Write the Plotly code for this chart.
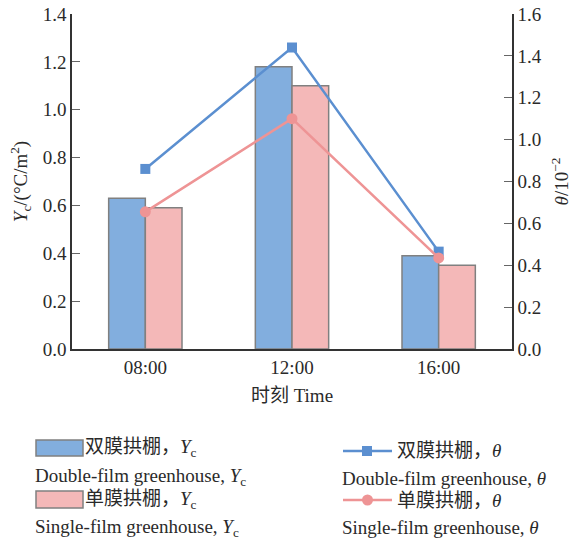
import plotly.graph_objects as go

times = ["08:00", "12:00", "16:00"]
yc_double = [0.63, 1.18, 0.39]
yc_single = [0.59, 1.10, 0.35]
theta_double = [0.86, 1.44, 0.465]
theta_single = [0.655, 1.10, 0.435]

left_ticks = [0.0, 0.2, 0.4, 0.6, 0.8, 1.0, 1.2, 1.4]
right_ticks = [0.0, 0.2, 0.4, 0.6, 0.8, 1.0, 1.2, 1.4, 1.6]

BLUE_BAR = "#82AEDE"
PINK_BAR = "#F4B8B8"
BLUE_LINE = "#5B8FD0"
PINK_LINE = "#EE9495"
EDGE = "#808080"
TXT = "#2a2a2a"
FONT = '"Times New Roman", "Liberation Serif", "Noto Sans CJK SC", serif'
FS = 19

W, H = 572, 544
ML, MR, MT, MB = 72, 60, 14, 195
PW = W - ML - MR
PH = H - MT - MB

def px(x):
    return (x - ML) / PW

def py(y):
    return (H - MB - y) / PH

fig = go.Figure()
fig.add_trace(go.Bar(x=times, y=yc_double, marker=dict(color=BLUE_BAR, line=dict(color=EDGE, width=1.5)),
                     showlegend=False))
fig.add_trace(go.Bar(x=times, y=yc_single, marker=dict(color=PINK_BAR, line=dict(color=EDGE, width=1.5)),
                     showlegend=False))
fig.add_trace(go.Scatter(x=times, y=theta_double, yaxis="y2", mode="lines+markers",
                         line=dict(color=BLUE_LINE, width=2.5),
                         marker=dict(symbol="square", size=10, color=BLUE_LINE), showlegend=False))
fig.add_trace(go.Scatter(x=times, y=theta_single, yaxis="y2", mode="lines+markers",
                         line=dict(color=PINK_LINE, width=2.5),
                         marker=dict(symbol="circle", size=11, color=PINK_LINE), showlegend=False))

shapes = []
annotations = []

def txt(x, y, s):
    annotations.append(dict(x=px(x), y=py(y), xref="paper", yref="paper", text=s, showarrow=False,
                            xanchor="left", yanchor="middle", font=dict(family=FONT, size=FS, color=TXT)))

# Left legend column (bars)
shapes.append(dict(type="rect", xref="paper", yref="paper", x0=px(36), x1=px(83), y0=py(440), y1=py(456),
                   fillcolor=BLUE_BAR, line=dict(color=EDGE, width=1.5)))
txt(83, 448, "双膜拱棚，<i>Y</i><sub>c</sub>")
txt(33, 477, "Double-film greenhouse, <i>Y</i><sub>c</sub>")
shapes.append(dict(type="rect", xref="paper", yref="paper", x0=px(36), x1=px(83), y0=py(491), y1=py(508),
                   fillcolor=PINK_BAR, line=dict(color=EDGE, width=1.5)))
txt(83, 500, "单膜拱棚，<i>Y</i><sub>c</sub>")
txt(33, 528, "Single-film greenhouse, <i>Y</i><sub>c</sub>")

# Right legend column (lines)
shapes.append(dict(type="line", xref="paper", yref="paper", x0=px(343), x1=px(392), y0=py(451), y1=py(451),
                   line=dict(color=BLUE_LINE, width=2.5)))
shapes.append(dict(type="rect", xref="paper", yref="paper", x0=px(362), x1=px(372), y0=py(446), y1=py(456),
                   fillcolor=BLUE_LINE, line=dict(width=0)))
txt(395, 450, "双膜拱棚，<i>θ</i>")
txt(340, 478, "Double-film greenhouse, <i>θ</i>")
shapes.append(dict(type="line", xref="paper", yref="paper", x0=px(343), x1=px(392), y0=py(500), y1=py(500),
                   line=dict(color=PINK_LINE, width=2.5)))
shapes.append(dict(type="circle", xref="paper", yref="paper", x0=px(362), x1=px(373), y0=py(494.5), y1=py(505.5),
                   fillcolor=PINK_LINE, line=dict(width=0)))
txt(395, 500, "单膜拱棚，<i>θ</i>")
txt(340, 527, "Single-film greenhouse, <i>θ</i>")

fig.update_layout(
    width=W, height=H,
    margin=dict(l=ML, r=MR, t=MT, b=MB, pad=0, autoexpand=False),
    plot_bgcolor="white", paper_bgcolor="white",
    barmode="group", bargap=0.5, bargroupgap=0,
    font=dict(family=FONT, size=FS, color=TXT),
    xaxis=dict(showline=True, linecolor="#333", linewidth=1.5, ticks="", showgrid=False,
               tickfont=dict(size=FS), automargin=False,
               title=dict(text="时刻 Time", font=dict(size=FS), standoff=12)),
    yaxis=dict(range=[0, 1.4], tickvals=left_ticks, tickformat=".1f", showline=True, linecolor="#333",
               linewidth=1.5, ticks="inside", ticklen=8, tickcolor="#666", showgrid=False, zeroline=False,
               tickfont=dict(size=FS), automargin=False,
               title=dict(text="<i>Y</i><sub>c</sub>/(°C/m<sup>2</sup>)", font=dict(size=FS), standoff=10)),
    yaxis2=dict(range=[0, 1.6], tickvals=right_ticks, tickformat=".1f", overlaying="y", side="right",
                showline=True, linecolor="#333", linewidth=1.5, ticks="inside", ticklen=8, tickcolor="#666",
                showgrid=False, zeroline=False, tickfont=dict(size=FS), automargin=False,
                title=dict(text="<i>θ</i>/10<sup>−2</sup>", font=dict(size=FS), standoff=18)),
    shapes=shapes,
    annotations=annotations,
)

fig.write_html("out.html")
